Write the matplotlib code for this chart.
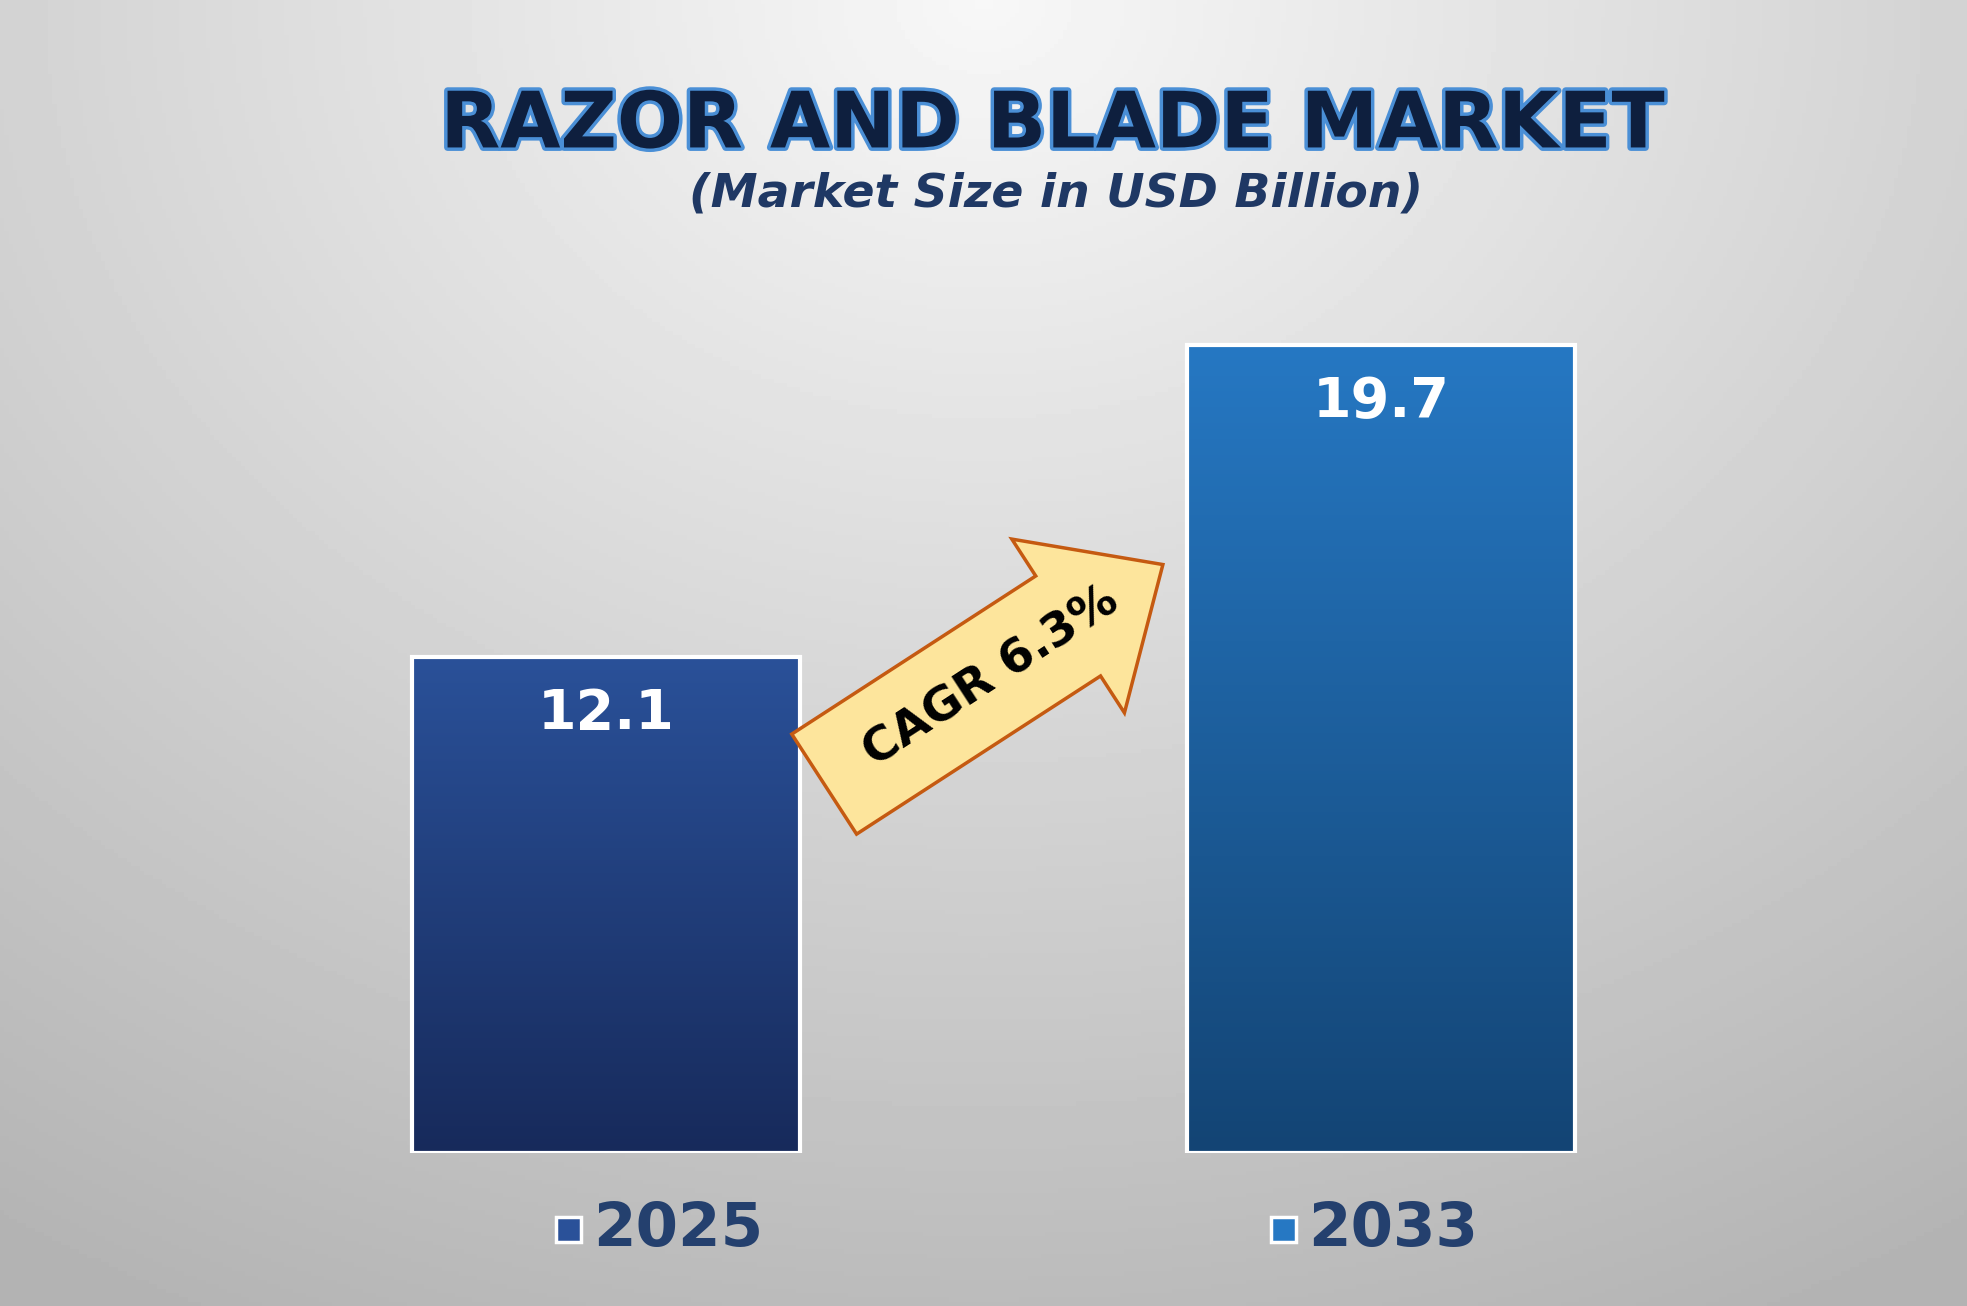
import numpy as np
import matplotlib.pyplot as plt
from matplotlib.patches import FancyArrow, Rectangle
import matplotlib.patheffects as pe

years = ["2025", "2033"]
values = [12.1, 19.7]
cagr_label = "CAGR 6.3%"
top_colors = ["#2a5199", "#2678c3"]
bottom_colors = ["#172a5b", "#134474"]

W, H = 1568, 1041
fig = plt.figure(figsize=(19.67, 13.06), dpi=100)

# background: light at top centre, grey to the edges
bg = fig.add_axes([0, 0, 1, 1])
yy, xx = np.mgrid[0:1:300j, 0:1:450j]
r = np.sqrt(((xx - 0.5) / 0.9) ** 2 + (yy / 1.1) ** 2)
shade = np.clip(0.97 - 0.26 * r, 0.7, 0.97)
bg.imshow(shade, cmap="gray", vmin=0, vmax=1, extent=[0, W, H, 0], aspect="auto")
bg.set_xlim(0, W)
bg.set_ylim(H, 0)
bg.axis("off")

# bar axes: bottom at baseline, 32.7 px per unit
ax = fig.add_axes([0, 1 - 919 / H, 1, 919 / H])
ax.set_xlim(-483 / 618, (W - 483) / 618)
ax.set_ylim(0, 919 / 32.7)
ax.axis("off")
ax.patch.set_alpha(0)

width = 0.5
for i, (v, ct, cb) in enumerate(zip(values, top_colors, bottom_colors)):
    c1 = np.array(plt.matplotlib.colors.to_rgb(cb))
    c2 = np.array(plt.matplotlib.colors.to_rgb(ct))
    t = np.linspace(0, 1, 256)[:, None]
    grad = (c1 + (c2 - c1) * t)[:, None, :]
    ax.imshow(grad, extent=[i - width / 2, i + width / 2, 0, v], origin="lower",
              aspect="auto", zorder=2)
    ax.add_patch(Rectangle((i - width / 2, 0), width, v, fill=False,
                           edgecolor="white", lw=3, zorder=3))
    ax.text(i, v - 1.4, f"{v}", ha="center", va="center", color="white",
            fontsize=40, fontweight="bold", zorder=4)

# CAGR arrow
ov = fig.add_axes([0, 0, 1, 1])
ov.set_xlim(0, W)
ov.set_ylim(H, 0)
ov.axis("off")
ov.patch.set_alpha(0)
ov.add_patch(FancyArrow(657, 625, 270, -175, width=95, head_width=165,
                        head_length=90, length_includes_head=True,
                        facecolor="#fde59c", edgecolor="#c55a11", lw=2.5, zorder=5))
ov.text(790, 540, cagr_label, rotation=33, ha="center", va="center",
        fontsize=34, fontweight="bold", color="black", zorder=6)

# titles
fig.text(0.535, 1 - 100 / H, "RAZOR AND BLADE MARKET", ha="center", va="center",
         fontsize=56, fontweight="bold", color="#0e1f3e",
         path_effects=[pe.withStroke(linewidth=5, foreground="#4a8fd6")])
fig.text(0.537, 1 - 155 / H, "(Market Size in USD Billion)", ha="center", va="center",
         fontsize=34, fontweight="bold", style="italic", color="#1f3864")

# legend-like labels
for i, y in enumerate(years):
    xc = [505, 1075][i]
    ov.add_patch(Rectangle((xc - 62, 970), 20, 20, facecolor=top_colors[i],
                           edgecolor="white", lw=2.5, zorder=5))
    ov.text(xc - 32, 980, y, ha="left", va="center", fontsize=44,
            fontweight="bold", color="#24406e")

fig.savefig("out.png", dpi=100)
